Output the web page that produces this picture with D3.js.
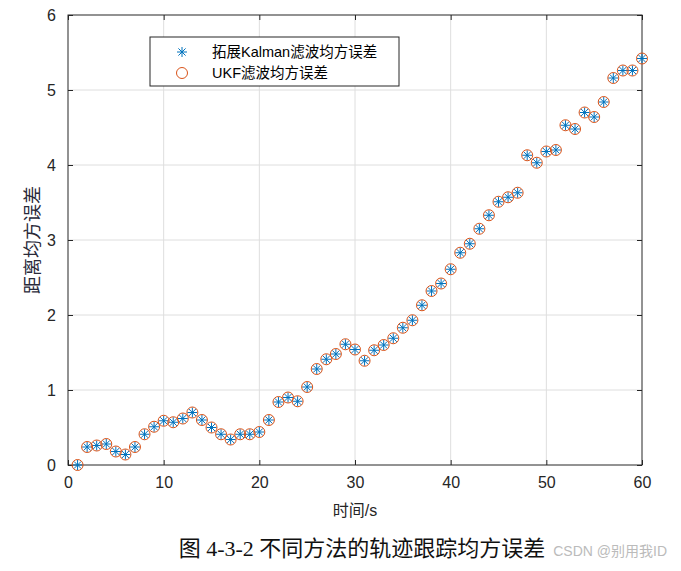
<!DOCTYPE html>
<html lang="zh">
<head>
<meta charset="UTF-8">
<title>轨迹跟踪均方误差</title>
<script src="https://cdn.jsdelivr.net/npm/d3@7/dist/d3.min.js"></script>
<style>
  body { margin: 0; background: #fff; }
  svg { display: block; }
</style>
</head>
<body>
<script>
// data
const times = d3.range(1, 61);
const ekfErr = [
  0.00, 0.24, 0.26, 0.28, 0.18, 0.14, 0.24, 0.41, 0.51, 0.59,
  0.57, 0.62, 0.70, 0.60, 0.50, 0.41, 0.34, 0.41, 0.41, 0.44,
  0.60, 0.84, 0.90, 0.85, 1.04, 1.28, 1.41, 1.48, 1.61, 1.54,
  1.39, 1.53, 1.60, 1.69, 1.83, 1.93, 2.13, 2.32, 2.42, 2.61,
  2.83, 2.95, 3.15, 3.33, 3.51, 3.57, 3.63, 4.13, 4.03, 4.18,
  4.20, 4.53, 4.48, 4.70, 4.64, 4.84, 5.16, 5.26, 5.26, 5.42
];
const ukfErr = ekfErr.slice(); // the two curves coincide in the figure
const xTicks = [0, 10, 20, 30, 40, 50, 60];
const yTicks = [0, 1, 2, 3, 4, 5, 6];
const legendLabels = ["拓展Kalman滤波均方误差", "UKF滤波均方误差"];

const W = 681, H = 571;
const margin = {top: 15, right: 39, bottom: 106, left: 68};
const w = W - margin.left - margin.right,
      h = H - margin.top - margin.bottom;

const blue = "#0072BD", orange = "#D95319";
const sans = "'Liberation Sans', Arial, 'Noto Sans CJK SC', sans-serif";
const serif = "'Liberation Serif', 'Times New Roman', 'Noto Sans CJK SC', serif";

const svg = d3.select("body").append("svg")
    .attr("width", W)
    .attr("height", H);

const g = svg.append("g")
    .attr("transform", "translate(" + margin.left + "," + margin.top + ")");

const x = d3.scaleLinear().domain([0, 60]).range([0, w]);
const y = d3.scaleLinear().domain([0, 6]).range([h, 0]);

// grid
g.append("g").selectAll("line").data(xTicks.slice(1, -1)).enter().append("line")
    .attr("x1", d => x(d)).attr("x2", d => x(d))
    .attr("y1", 0).attr("y2", h)
    .attr("stroke", "#dedede").attr("stroke-width", 1);
g.append("g").selectAll("line").data(yTicks.slice(1, -1)).enter().append("line")
    .attr("y1", d => y(d)).attr("y2", d => y(d))
    .attr("x1", 0).attr("x2", w)
    .attr("stroke", "#dedede").attr("stroke-width", 1);

// axes, ticks inward
function styleAxis(sel) {
    sel.select(".domain").remove();
    sel.selectAll("line").attr("stroke", "#262626");
    sel.selectAll("text").attr("fill", "#262626")
        .style("font-family", sans).style("font-size", "16px");
}
g.append("g").attr("transform", "translate(0," + h + ")")
    .call(d3.axisBottom(x).tickValues(xTicks).tickSize(-5).tickPadding(12))
    .call(styleAxis);
g.append("g")
    .call(d3.axisLeft(y).tickValues(yTicks).tickFormat(d3.format("d")).tickSize(-5).tickPadding(12))
    .call(styleAxis);
g.append("g")
    .call(d3.axisTop(x).tickValues(xTicks).tickSize(-5).tickFormat(""))
    .call(styleAxis);
g.append("g").attr("transform", "translate(" + w + ",0)")
    .call(d3.axisRight(y).tickValues(yTicks).tickSize(-5).tickFormat(""))
    .call(styleAxis);

g.append("rect")
    .attr("width", w).attr("height", h)
    .attr("fill", "none").attr("stroke", "#262626").attr("stroke-width", 1);

// star marker (MATLAB '*')
function star(sel, s) {
    const a = s * 0.72;
    sel.append("path")
        .attr("d", "M" + (-s) + ",0H" + s + "M0," + (-s) + "V" + s +
            "M" + (-a) + "," + (-a) + "L" + a + "," + a +
            "M" + (-a) + "," + a + "L" + a + "," + (-a))
        .attr("stroke", blue).attr("stroke-width", 1).attr("fill", "none");
}

const ekf = times.map((t, i) => ({t: t, v: ekfErr[i]}));
const ukf = times.map((t, i) => ({t: t, v: ukfErr[i]}));

g.append("g").selectAll("g").data(ekf).enter().append("g")
    .attr("transform", d => "translate(" + x(d.t) + "," + y(d.v) + ")")
    .each(function () { star(d3.select(this), 5); });

g.append("g").selectAll("circle").data(ukf).enter().append("circle")
    .attr("cx", d => x(d.t)).attr("cy", d => y(d.v))
    .attr("r", 5.5)
    .attr("fill", "none").attr("stroke", orange).attr("stroke-width", 1);

// legend
const lg = svg.append("g").attr("transform", "translate(150,37)");
lg.append("rect").attr("width", 249).attr("height", 49)
    .attr("fill", "#fff").attr("stroke", "#262626").attr("stroke-width", 1);
const row1 = lg.append("g").attr("transform", "translate(32,15)");
star(row1, 5);
lg.append("circle").attr("cx", 32).attr("cy", 36).attr("r", 5.5)
    .attr("fill", "none").attr("stroke", orange);
lg.selectAll("text.lab").data(legendLabels).enter().append("text")
    .attr("class", "lab")
    .attr("x", 62).attr("y", (d, i) => 15 + i * 21)
    .attr("dy", "0.35em")
    .attr("fill", "#000")
    .style("font-family", sans).style("font-size", "14.5px")
    .text(d => d);

// axis labels
svg.append("text")
    .attr("x", margin.left + w / 2).attr("y", 516)
    .attr("text-anchor", "middle").attr("fill", "#262626")
    .style("font-family", sans).style("font-size", "16px")
    .text("时间/s");

svg.append("text")
    .attr("transform", "translate(33," + (margin.top + h / 2) + ") rotate(-90)")
    .attr("text-anchor", "middle").attr("dy", "0.35em").attr("fill", "#2a2a3a")
    .style("font-family", serif).style("font-size", "18px")
    .text("距离均方误差");

// caption
svg.append("text")
    .attr("x", 362).attr("y", 556)
    .attr("text-anchor", "middle").attr("fill", "#111")
    .style("font-family", serif).style("font-size", "22px")
    .text("图 4-3-2 不同方法的轨迹跟踪均方误差");

// watermark
svg.append("text")
    .attr("x", 667).attr("y", 556)
    .attr("text-anchor", "end").attr("fill", "#bbb")
    .style("font-family", sans).style("font-size", "14px")
    .text("CSDN @别用我ID");
</script>
</body>
</html>
